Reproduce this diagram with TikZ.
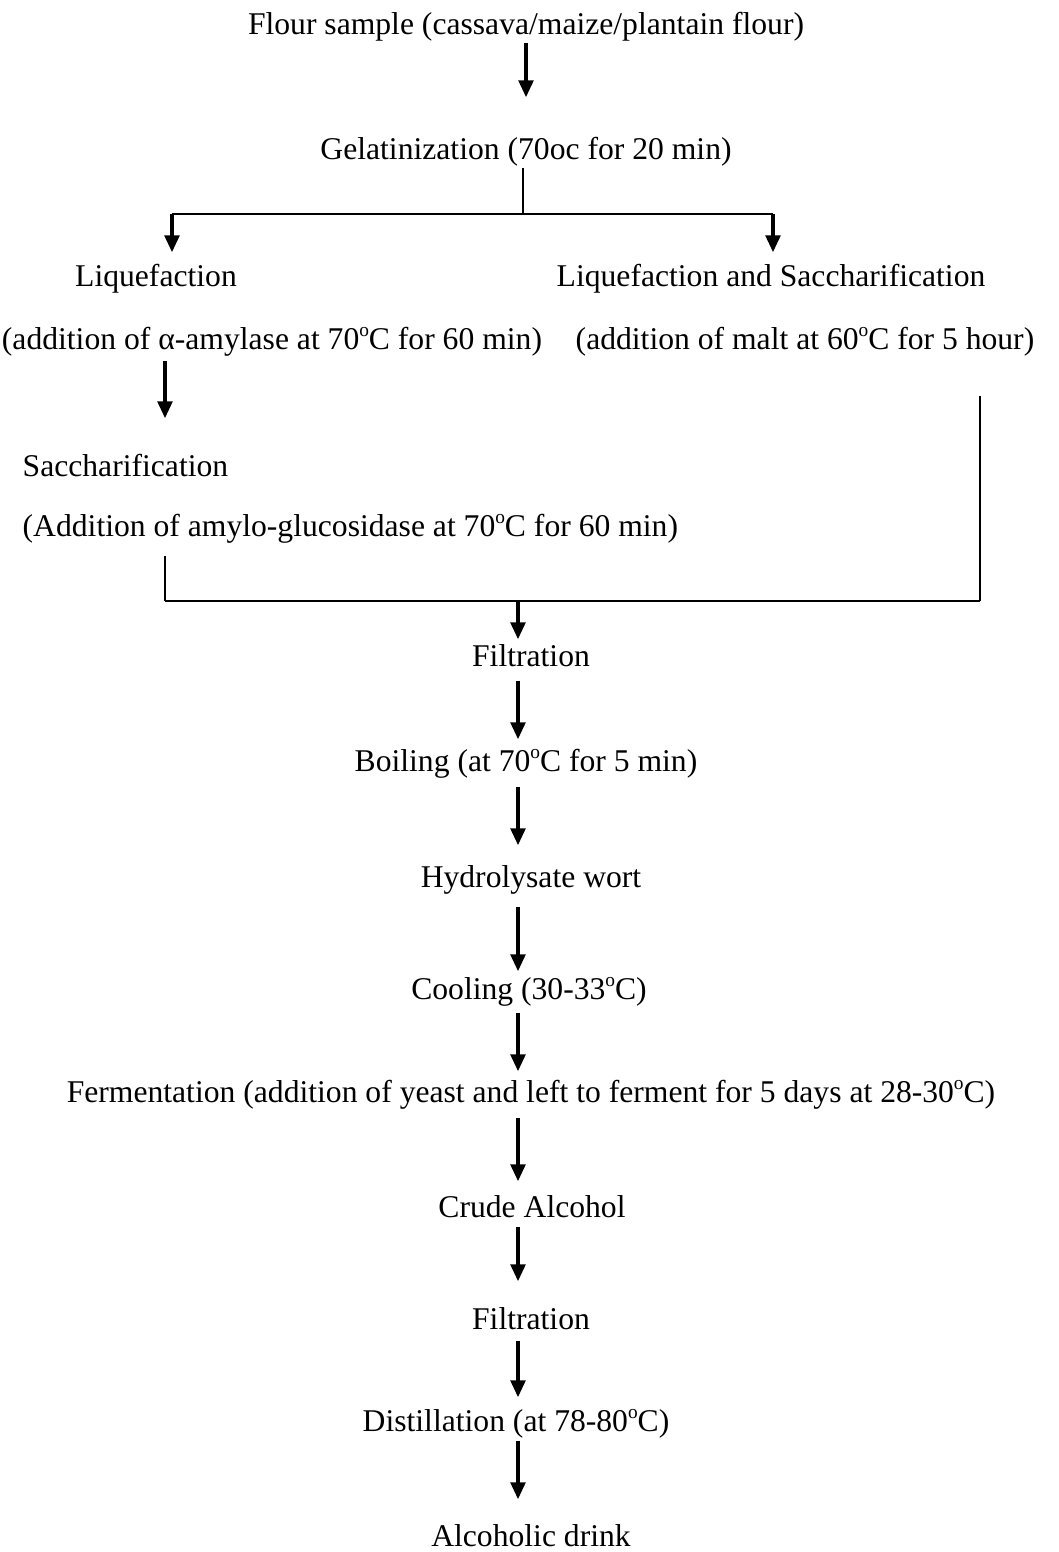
\documentclass[tikz,border=0pt]{standalone}
\usepackage{fontspec}
\setmainfont{Liberation Serif}
\usetikzlibrary{arrows.meta}
\newcommand{\degC}{\raisebox{0.95ex}{\fontsize{5.5}{6}\selectfont o}C}
\tikzset{
  stage/.style={inner sep=0pt, text height=6.5pt, text depth=2pt, font=\fontsize{9}{11}\selectfont},
  flow/.style={line width=1.1pt, -{Triangle[length=1.7mm,width=1.45mm]}},
  bar/.style={line width=0.7pt},
  thin line/.style={line width=0.4pt}
}
\begin{document}
\begin{tikzpicture}[x=0.1mm, y=-0.1mm]
\useasboundingbox (0,0) rectangle (1058,1552);

% upper part: two routes
\node [stage] (flour) at (526,27) {Flour sample (cassava/maize/plantain flour)};
\node [stage] (gel) at (526,152) {Gelatinization (70oc for 20 min)};
\node [stage] (liq) at (156,279) {Liquefaction};
\node [stage] (liqsac) at (771,279) {Liquefaction and Saccharification};
\node [stage] (amyl) at (272,342) {(addition of α-amylase at 70\degC{} for 60 min)};
\node [stage] (malt) at (805,342) {(addition of malt at 60\degC{} for 5 hour)};
\node [stage, anchor=west] (sac) at (22,469) {Saccharification};
\node [stage, anchor=west] (gluc) at (22,529) {(Addition of amylo-glucosidase at 70\degC{} for 60 min)};

% lower part: one line
\node [stage] (filt1) at (531,659) {Filtration};
\node [stage] (boil) at (526,764) {Boiling (at 70\degC{} for 5 min)};
\node [stage] (hydro) at (531,880) {Hydrolysate wort};
\node [stage] (cool) at (529,992) {Cooling (30-33\degC)};
\node [stage] (ferm) at (531,1095) {Fermentation (addition of yeast and left to ferment for 5 days at 28-30\degC)};
\node [stage] (crude) at (532,1210) {Crude Alcohol};
\node [stage] (filt2) at (531,1322) {Filtration};
\node [stage] (dist) at (516,1424) {Distillation (at 78-80\degC)};
\node [stage] (drink) at (531,1539) {Alcoholic drink};

\coordinate (split) at (523,214);
\coordinate (splitL) at (172,214);
\coordinate (splitR) at (773,214);
\coordinate (left) at (165,0);
\coordinate (merge) at (518,601);
\coordinate (mergeL) at (165,601);
\coordinate (mergeR) at (980,601);

\draw [flow, shorten >=3.9mm] (flour.south) -- (gel.north);
\draw [thin line] (gel.south -| split) -- (split);
\draw [bar] (splitL) -- (splitR);
\draw [flow, shorten >=1.1mm] (splitL) -- (splitL |- liq.north);
\draw [flow, shorten >=1.1mm] (splitR) -- (splitR |- liqsac.north);
\draw [flow, shorten <=0.3mm, shorten >=3.5mm] (amyl.south -| left) -- (sac.north -| left);
\draw [thin line, shorten <=1.1mm] (gluc.south -| mergeL) -- (mergeL);
\draw [thin line, shorten <=3.8mm] (malt.south -| mergeR) -- (mergeR);
\draw [bar] (mergeL) -- (mergeR);
\draw [flow, shorten >=0.4mm] (merge) -- (filt1.north -| merge);

\foreach \a/\b/\s/\e in {filt1/boil/0.6/0.9, boil/hydro/0.7/1.9, hydro/cool/1.1/0.5,
    cool/ferm/0.5/0.8, ferm/crude/0.7/1.3, crude/filt2/0.1/2.5,
    filt2/dist/0.3/1.1, dist/drink/0.1/2.4}{
  \draw [flow, shorten <=\s mm, shorten >=\e mm] (\a.south -| merge) -- (\b.north -| merge);
}
\end{tikzpicture}
\end{document}
